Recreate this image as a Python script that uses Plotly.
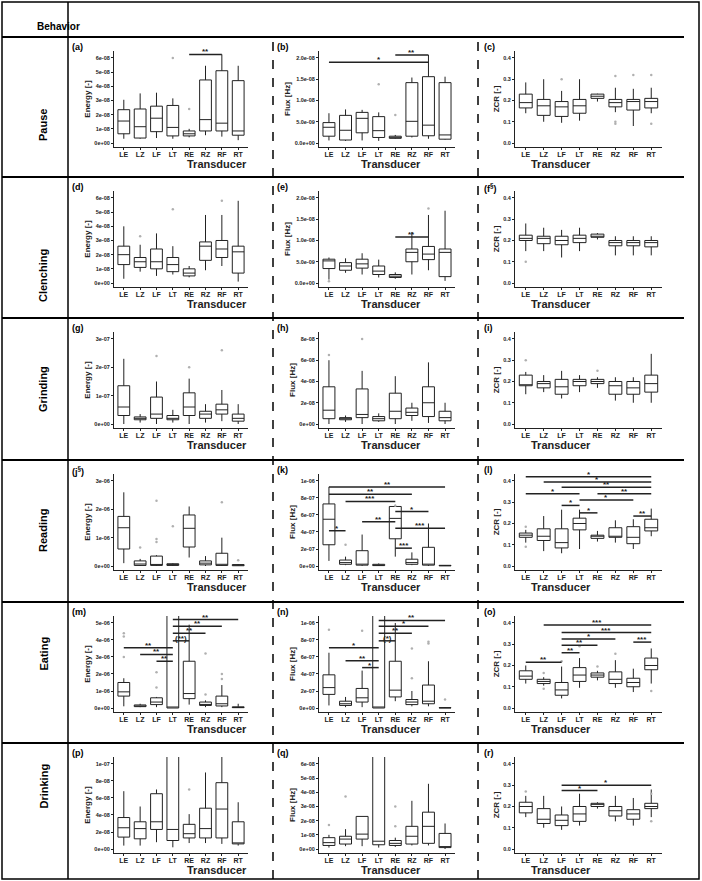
import plotly.graph_objects as go

W, H = 702, 881

transducers = ["LE", "LZ", "LF", "LT", "RE", "RZ", "RF", "RT"]
behaviors = ["Pause", "Clenching", "Grinding", "Reading", "Eating", "Drinking"]
panel_labels = ["(a)", "(b)", "(c)", "(d)", "(e)", "(f<sup>§</sup>)", "(g)", "(h)", "(i)",
                "(j<sup>§</sup>)", "(k)", "(l)", "(m)", "(n)", "(o)", "(p)", "(q)", "(r)"]
y_titles = ["Energy [-]", "Flux [Hz]", "ZCR [-]"]

# box stats per transducer: (lower whisker, q1, median, q3, upper whisker), in axis units
pause_energy = [(0.3, 0.65, 1.55, 2.35, 3.05), (0.3, 0.35, 1.15, 2.4, 3.5), (0.35, 0.8, 1.75, 2.6, 3.55),
                (0.3, 0.5, 1.1, 2.65, 3.15), (0.4, 0.5, 0.65, 0.85, 1.0), (0.55, 0.85, 1.65, 4.45, 5.45),
                (0.45, 0.85, 1.4, 5.1, 6.25), (0.2, 0.55, 0.85, 4.4, 5.45)]
pause_flux = [(0.6, 1.6, 3.7, 4.8, 7.0), (0.5, 0.7, 3.0, 6.5, 7.9), (0.6, 2.4, 5.8, 7.2, 7.8),
              (0.5, 1.3, 2.9, 6.2, 7.2), (1.0, 1.1, 1.3, 1.6, 1.9), (1.3, 1.6, 5.1, 14.2, 15.4),
              (1.0, 1.7, 4.2, 15.6, 20.7), (0.8, 0.9, 1.9, 14.2, 15.6)]
pause_zcr = [(0.14, 0.165, 0.19, 0.23, 0.285), (0.10, 0.13, 0.175, 0.205, 0.30), (0.095, 0.125, 0.17, 0.195, 0.245),
             (0.105, 0.14, 0.175, 0.205, 0.30), (0.195, 0.21, 0.22, 0.23, 0.232), (0.145, 0.17, 0.19, 0.205, 0.26),
             (0.08, 0.155, 0.195, 0.205, 0.255), (0.14, 0.165, 0.195, 0.21, 0.26)]
clench_energy = [(0.3, 1.3, 2.0, 2.6, 4.0), (0.8, 1.1, 1.5, 1.8, 2.7), (0.5, 1.0, 1.5, 2.4, 3.5),
                 (0.6, 0.8, 1.3, 1.8, 2.6), (0.4, 0.5, 0.7, 1.0, 1.2), (0.9, 1.6, 2.6, 2.9, 4.8),
                 (1.2, 1.8, 2.4, 3.0, 4.8), (0.1, 0.7, 2.2, 2.6, 5.8)]
clench_flux = [(0.8, 3.4, 5.2, 5.6, 6.0), (2.4, 3.0, 4.0, 4.8, 5.8), (2.0, 3.5, 4.5, 5.6, 7.0),
               (1.3, 2.0, 2.8, 4.0, 5.5), (1.0, 1.3, 1.6, 2.0, 2.5), (2.0, 5.0, 7.2, 8.0, 12.0),
               (3.0, 5.5, 6.8, 8.6, 16.0), (0.5, 1.5, 7.2, 8.0, 17.0)]
clench_zcr = [(0.15, 0.2, 0.21, 0.225, 0.28), (0.15, 0.185, 0.21, 0.22, 0.26), (0.12, 0.18, 0.2, 0.22, 0.25),
              (0.15, 0.19, 0.21, 0.225, 0.26), (0.205, 0.215, 0.22, 0.23, 0.235), (0.13, 0.175, 0.19, 0.2, 0.22),
              (0.13, 0.175, 0.19, 0.2, 0.22), (0.13, 0.17, 0.19, 0.2, 0.22)]
grind_energy = [(0.0, 0.3, 0.6, 1.35, 2.3), (0.05, 0.15, 0.2, 0.25, 0.35), (0.0, 0.2, 0.35, 0.95, 1.5),
                (0.05, 0.15, 0.2, 0.3, 0.5), (0.0, 0.3, 0.6, 1.1, 1.6), (0.05, 0.2, 0.35, 0.45, 0.7),
                (0.1, 0.35, 0.5, 0.7, 1.2), (0.0, 0.1, 0.2, 0.35, 0.7)]
grind_flux = [(0.0, 0.5, 1.3, 3.5, 6.0), (0.2, 0.4, 0.5, 0.6, 0.8), (0.0, 0.6, 0.9, 3.3, 5.0),
              (0.2, 0.3, 0.5, 0.7, 1.0), (0.0, 0.5, 1.2, 2.9, 4.5), (0.3, 0.8, 1.1, 1.5, 2.0),
              (0.1, 0.7, 2.0, 3.5, 5.8), (0.0, 0.3, 0.6, 1.2, 2.0)]
grind_zcr = [(0.14, 0.18, 0.18, 0.23, 0.245), (0.15, 0.17, 0.19, 0.2, 0.23), (0.12, 0.14, 0.175, 0.21, 0.25),
             (0.15, 0.18, 0.2, 0.21, 0.23), (0.17, 0.19, 0.2, 0.21, 0.22), (0.11, 0.14, 0.18, 0.2, 0.22),
             (0.10, 0.14, 0.17, 0.2, 0.22), (0.10, 0.15, 0.19, 0.23, 0.33)]
read_energy = [(0.1, 0.6, 1.35, 1.75, 2.6), (0.0, 0.02, 0.07, 0.18, 0.25), (0.0, 0.02, 0.05, 0.35, 0.38),
               (0.0, 0.02, 0.05, 0.08, 0.1), (0.3, 0.67, 1.33, 1.8, 2.1), (0.0, 0.04, 0.1, 0.18, 0.35),
               (0.0, 0.02, 0.06, 0.45, 1.0), (0.0, 0.01, 0.03, 0.05, 0.07)]
read_flux = [(0.6, 2.5, 5.5, 7.3, 9.3), (0.1, 0.2, 0.4, 0.7, 1.1), (0.0, 0.1, 0.2, 1.8, 3.7),
             (0.0, 0.05, 0.1, 0.2, 0.3), (1.1, 3.2, 5.6, 7.0, 7.2), (0.1, 0.2, 0.4, 0.8, 1.6),
             (0.0, 0.1, 0.2, 2.2, 5.0), (0.0, 0.02, 0.05, 0.08, 0.1)]
read_zcr = [(0.11, 0.135, 0.145, 0.155, 0.17), (0.07, 0.12, 0.14, 0.175, 0.235), (0.06, 0.085, 0.11, 0.175, 0.265),
            (0.08, 0.17, 0.2, 0.225, 0.265), (0.115, 0.13, 0.14, 0.145, 0.165), (0.11, 0.135, 0.14, 0.18, 0.215),
            (0.08, 0.105, 0.135, 0.185, 0.22), (0.14, 0.165, 0.18, 0.22, 0.27)]
eat_energy = [(0.1, 0.7, 0.95, 1.5, 1.75), (0.05, 0.08, 0.12, 0.18, 0.25), (0.05, 0.2, 0.35, 0.6, 0.65),
              (0.0, 0.0, 0.0, 6.0, 6.0), (0.2, 0.55, 0.85, 2.75, 4.9), (0.05, 0.15, 0.2, 0.35, 0.45),
              (0.05, 0.12, 0.25, 0.7, 1.35), (0.0, 0.02, 0.03, 0.07, 0.25)]
eat_flux = [(0.3, 1.6, 2.4, 3.9, 6.5), (0.1, 0.3, 0.5, 0.8, 1.3), (0.1, 0.7, 1.2, 2.3, 4.4),
            (0.0, 0.0, 0.0, 12.0, 12.0), (0.8, 1.3, 2.1, 5.5, 10.0), (0.2, 0.4, 0.7, 1.0, 2.0),
            (0.2, 0.5, 0.8, 2.7, 5.5), (0.0, 0.01, 0.02, 0.04, 0.06)]
eat_zcr = [(0.115, 0.135, 0.15, 0.175, 0.2), (0.105, 0.115, 0.125, 0.135, 0.145), (0.045, 0.06, 0.085, 0.12, 0.195),
           (0.095, 0.125, 0.155, 0.19, 0.235), (0.13, 0.145, 0.155, 0.165, 0.175), (0.095, 0.115, 0.135, 0.17, 0.225),
           (0.075, 0.1, 0.12, 0.14, 0.185), (0.115, 0.18, 0.2, 0.235, 0.28)]
drink_energy = [(0.4, 1.4, 2.5, 3.7, 6.8), (0.4, 1.2, 2.4, 3.2, 5.0), (0.8, 2.3, 3.2, 6.5, 7.0),
                (0.2, 1.0, 2.3, 12.0, 12.0), (0.7, 1.3, 1.8, 2.9, 4.1), (0.7, 1.3, 2.4, 4.8, 9.0),
                (0.6, 1.3, 4.7, 7.8, 11.0), (0.4, 0.6, 0.7, 3.2, 5.5)]
drink_flux = [(0.1, 0.25, 0.45, 0.8, 1.0), (0.2, 0.35, 0.7, 0.9, 1.4), (0.2, 0.7, 1.05, 2.3, 2.3),
              (0.1, 0.3, 0.55, 7.0, 7.0), (0.15, 0.25, 0.4, 0.6, 0.8), (0.25, 0.35, 0.9, 1.6, 3.4),
              (0.25, 0.4, 1.6, 2.6, 4.6), (0.0, 0.1, 0.15, 1.1, 1.8)]
drink_zcr = [(0.15, 0.17, 0.2, 0.22, 0.25), (0.1, 0.12, 0.14, 0.19, 0.25), (0.09, 0.11, 0.135, 0.16, 0.2),
             (0.11, 0.13, 0.165, 0.2, 0.26), (0.19, 0.2, 0.21, 0.215, 0.22), (0.13, 0.155, 0.18, 0.2, 0.25),
             (0.11, 0.14, 0.165, 0.185, 0.24), (0.15, 0.19, 0.2, 0.215, 0.28)]

# outliers: (transducer index, value)
pause_energy_out = [(3, 6.0), (4, 2.4)]
pause_flux_out = [(3, 13.8), (4, 6.6)]
pause_zcr_out = [(2, 0.30), (5, 0.315), (5, 0.09), (5, 0.10), (6, 0.32), (7, 0.32), (7, 0.09)]
clench_energy_out = [(3, 5.2), (6, 5.8), (1, 3.3)]
clench_flux_out = [(0, 0.4), (6, 17.5)]
clench_zcr_out = [(0, 0.10)]
grind_energy_out = [(2, 2.4), (6, 2.6), (4, 2.0)]
grind_flux_out = [(2, 8.0), (0, 6.5)]
grind_zcr_out = [(0, 0.30), (4, 0.25)]
read_energy_out = [(1, 0.65), (2, 0.85), (2, 0.95), (2, 2.3), (3, 1.4), (6, 2.25), (7, 0.2)]
read_flux_out = [(1, 2.5), (4, 7.1)]
read_zcr_out = [(0, 0.185), (0, 0.09)]
eat_energy_out = [(0, 3.0), (0, 4.2), (0, 4.4), (2, 1.2), (2, 2.1), (5, 3.2), (5, 0.8), (6, 1.7), (6, 2.0)]
eat_flux_out = [(0, 9.2), (2, 9.1), (5, 3.5), (5, 7.0), (6, 7.6), (6, 7.8), (7, 1.0)]
eat_zcr_out = [(1, 0.09), (1, 0.165), (2, 0.22), (3, 0.29), (4, 0.195), (5, 0.255), (7, 0.08)]
drink_energy_out = [(4, 7.0)]
drink_flux_out = [(0, 1.7), (1, 3.7), (4, 1.6), (4, 3.0)]
drink_zcr_out = [(0, 0.27), (7, 0.26), (7, 0.13)]

# significance bars: (from index, to index, level, label)
pause_energy_sig = [(4, 6, 6.25, "**")]
pause_flux_sig = [(0, 6, 19.0, "*"), (4, 6, 20.7, "**")]
clench_flux_sig = [(4, 6, 10.8, "**")]
read_flux_sig = [(0, 7, 9.3, "**"), (0, 5, 8.45, "**"), (1, 4, 7.6, "***"), (4, 6, 6.4, "*"),
                 (2, 4, 5.2, "**"), (0, 1, 4.15, "*"), (4, 7, 4.45, "***"), (4, 5, 2.1, "***")]
read_zcr_sig = [(0, 7, 0.42, "*"), (1, 7, 0.395, "*"), (2, 7, 0.37, "**"), (0, 3, 0.34, "*"),
                (4, 7, 0.34, "**"), (3, 6, 0.31, "*"), (2, 3, 0.285, "*"), (3, 4, 0.25, "*"),
                (6, 7, 0.235, "**")]
eat_energy_sig = [(0, 3, 3.55, "**"), (1, 3, 3.15, "**"), (2, 3, 2.75, "**"), (3, 4, 3.95, "(**)"),
                  (3, 5, 4.4, "**"), (3, 6, 4.8, "**"), (3, 7, 5.2, "**")]
eat_flux_sig = [(0, 3, 7.1, "*"), (1, 3, 5.55, "**"), (2, 3, 4.75, "*"), (3, 4, 7.9, "(*)"),
                (3, 5, 8.8, "**"), (3, 6, 9.6, "*"), (3, 7, 10.3, "**")]
eat_zcr_sig = [(1, 7, 0.39, "***"), (2, 7, 0.355, "***"), (2, 5, 0.325, "*"), (2, 4, 0.295, "**"),
               (2, 3, 0.26, "**"), (6, 7, 0.31, "***"), (0, 2, 0.215, "**")]
drink_zcr_sig = [(2, 7, 0.30, "*"), (2, 4, 0.275, "*")]

# y ticks: (tick values in axis units, tick labels)
ticks_e8 = ([0, 1, 2, 3, 4, 5, 6], ["0e+00", "1e-08", "2e-08", "3e-08", "4e-08", "5e-08", "6e-08"])
ticks_f9 = ([0, 5, 10, 15, 20], ["0.0e+00", "5.0e-09", "1.0e-08", "1.5e-08", "2.0e-08"])
ticks_zcr = ([0, 0.1, 0.2, 0.3, 0.4], ["0.0", "0.1", "0.2", "0.3", "0.4"])
ticks_e7 = ([0, 1, 2, 3], ["0e+00", "1e-07", "2e-07", "3e-07"])
ticks_f8 = ([0, 2, 4, 6, 8], ["0e+00", "2e-08", "4e-08", "6e-08", "8e-08"])
ticks_e6 = ([0, 1, 2, 3], ["0e+00", "1e-06", "2e-06", "3e-06"])
ticks_f7 = ([0, 2, 4, 6, 8, 10], ["0e+00", "2e-07", "4e-07", "6e-07", "8e-07", "1e-06"])
ticks_m6 = ([0, 1, 2, 3, 4, 5], ["0e+00", "1e-06", "2e-06", "3e-06", "4e-06", "5e-06"])
ticks_p8 = ([0, 2, 4, 6, 8, 10], ["0e+00", "2e-08", "4e-08", "6e-08", "8e-08", "1e-07"])

panels = [
    (pause_energy, pause_energy_out, pause_energy_sig, ticks_e8),
    (pause_flux, pause_flux_out, pause_flux_sig, ticks_f9),
    (pause_zcr, pause_zcr_out, [], ticks_zcr),
    (clench_energy, clench_energy_out, [], ticks_e8),
    (clench_flux, clench_flux_out, clench_flux_sig, ticks_f9),
    (clench_zcr, clench_zcr_out, [], ticks_zcr),
    (grind_energy, grind_energy_out, [], ticks_e7),
    (grind_flux, grind_flux_out, [], ticks_f8),
    (grind_zcr, grind_zcr_out, [], ticks_zcr),
    (read_energy, read_energy_out, [], ticks_e6),
    (read_flux, read_flux_out, read_flux_sig, ticks_f7),
    (read_zcr, read_zcr_out, read_zcr_sig, ticks_zcr),
    (eat_energy, eat_energy_out, eat_energy_sig, ticks_m6),
    (eat_flux, eat_flux_out, eat_flux_sig, ticks_f7),
    (eat_zcr, eat_zcr_out, eat_zcr_sig, ticks_zcr),
    (drink_energy, drink_energy_out, [], ticks_p8),
    (drink_flux, drink_flux_out, [], ticks_e8),
    (drink_zcr, drink_zcr_out, drink_zcr_sig, ticks_zcr),
]

row_tops = [37, 177, 318, 460, 602, 743]
col_axis = [(114, 248), (319, 455), (515, 662)]
col_left = [70, 275, 482]
FONT = "Liberation Sans"
INK = "#222222"


def px_x(v):
    return v / W


def px_y(v):
    return 1 - v / H


fig = go.Figure()
shapes = []
annotations = []
layout = {}

for k, (stats, outs, sigs, ticks) in enumerate(panels):
    r, c = divmod(k, 3)
    n = k + 1
    xa = "x" if n == 1 else "x" + str(n)
    ya = "y" if n == 1 else "y" + str(n)
    top = row_tops[r]
    vmax = ticks[0][-1]

    fig.add_trace(go.Box(
        x=list(range(8)),
        lowerfence=[s[0] for s in stats], q1=[s[1] for s in stats], median=[s[2] for s in stats],
        q3=[s[3] for s in stats], upperfence=[s[4] for s in stats],
        xaxis=xa, yaxis=ya, width=0.72, whiskerwidth=0, boxpoints=False,
        fillcolor="white", line=dict(color=INK, width=1), showlegend=False, hoverinfo="skip"))
    if outs:
        fig.add_trace(go.Scatter(
            x=[o[0] for o in outs], y=[o[1] for o in outs], mode="markers",
            marker=dict(size=2.5, color="#b0b0b0"), xaxis=xa, yaxis=ya,
            showlegend=False, hoverinfo="skip", cliponaxis=False))

    layout["xaxis" if n == 1 else "xaxis" + str(n)] = dict(
        domain=[px_x(col_axis[c][0]), px_x(col_axis[c][1])], anchor=ya,
        range=[-0.6, 7.6], tickvals=list(range(8)), ticktext=transducers,
        showline=True, linecolor=INK, linewidth=1.2, ticks="outside", ticklen=2, tickcolor=INK,
        showgrid=False, zeroline=False, ticklabelstandoff=-2,
        tickfont=dict(family=FONT, size=7, color=INK, weight="bold"))
    layout["yaxis" if n == 1 else "yaxis" + str(n)] = dict(
        domain=[px_y(top + 110), px_y(top + 14)], anchor=xa,
        range=[-0.047 * vmax, 1.082 * vmax], tickvals=ticks[0], ticktext=ticks[1],
        showline=True, linecolor=INK, linewidth=1.2, ticks="outside", ticklen=2, tickcolor=INK,
        showgrid=False, zeroline=False,
        tickfont=dict(family=FONT, size=5.5, color=INK, weight="bold"),
        title=dict(text=y_titles[c], standoff=2, font=dict(family=FONT, size=8, color=INK, weight="bold")))

    # x title drawn as text under the tick labels
    annotations.append(dict(x=px_x(sum(col_axis[c]) / 2 + 4), y=px_y(top + 127), xref="paper", yref="paper",
                            text="Transducer", showarrow=False, yanchor="middle",
                            font=dict(family=FONT, size=11, color=INK, weight="bold")))

    for i0, i1, lev, lab in sigs:
        shapes.append(dict(type="line", xref=xa, yref=ya, x0=i0, x1=i1, y0=lev, y1=lev,
                           line=dict(color=INK, width=1.5)))
        annotations.append(dict(x=(i0 + i1) / 2, y=lev, xref=xa, yref=ya, text=lab, showarrow=False,
                                yanchor="bottom", yshift=-4,
                                font=dict(family=FONT, size=8, color=INK, weight="bold")))

    annotations.append(dict(x=px_x(col_left[c]), y=px_y(top + 3), xref="paper", yref="paper",
                            text=panel_labels[k], showarrow=False, xanchor="left", yanchor="top",
                            font=dict(family=FONT, size=9, color="black", weight="bold")))

# table frame
frame = dict(color="black", width=1.5)
shapes.append(dict(type="rect", xref="paper", yref="paper", x0=px_x(2), x1=px_x(699),
                   y0=px_y(879), y1=px_y(2), line=frame))
shapes.append(dict(type="line", xref="paper", yref="paper", x0=px_x(68), x1=px_x(68),
                   y0=px_y(879), y1=px_y(2), line=frame))
for t in row_tops:
    shapes.append(dict(type="line", xref="paper", yref="paper", x0=px_x(2), x1=px_x(684),
                       y0=px_y(t), y1=px_y(t), line=dict(color="black", width=2)))
for xd in [273, 478]:
    shapes.append(dict(type="line", xref="paper", yref="paper", x0=px_x(xd), x1=px_x(xd),
                       y0=px_y(879), y1=px_y(37), line=dict(color="black", width=1.5, dash="dash")))

annotations.append(dict(x=px_x(35), y=px_y(19), xref="paper", yref="paper", text="Behavior",
                        showarrow=False, font=dict(family=FONT, size=10, color="black", weight="bold")))
row_bottoms = row_tops[1:] + [879]
for i, b in enumerate(behaviors):
    annotations.append(dict(x=px_x(35), y=px_y((row_tops[i] + row_bottoms[i]) / 2), xref="paper",
                            yref="paper", text=b, showarrow=False, textangle=-90,
                            font=dict(family=FONT, size=11, color="black", weight="bold")))

fig.update_layout(
    width=W, height=H, margin=dict(l=0, r=0, t=0, b=0),
    paper_bgcolor="white", plot_bgcolor="white",
    shapes=shapes, annotations=annotations, **layout)

fig.write_html("out.html", config={"displayModeBar": False},
               post_script="document.body.style.margin='0';")
